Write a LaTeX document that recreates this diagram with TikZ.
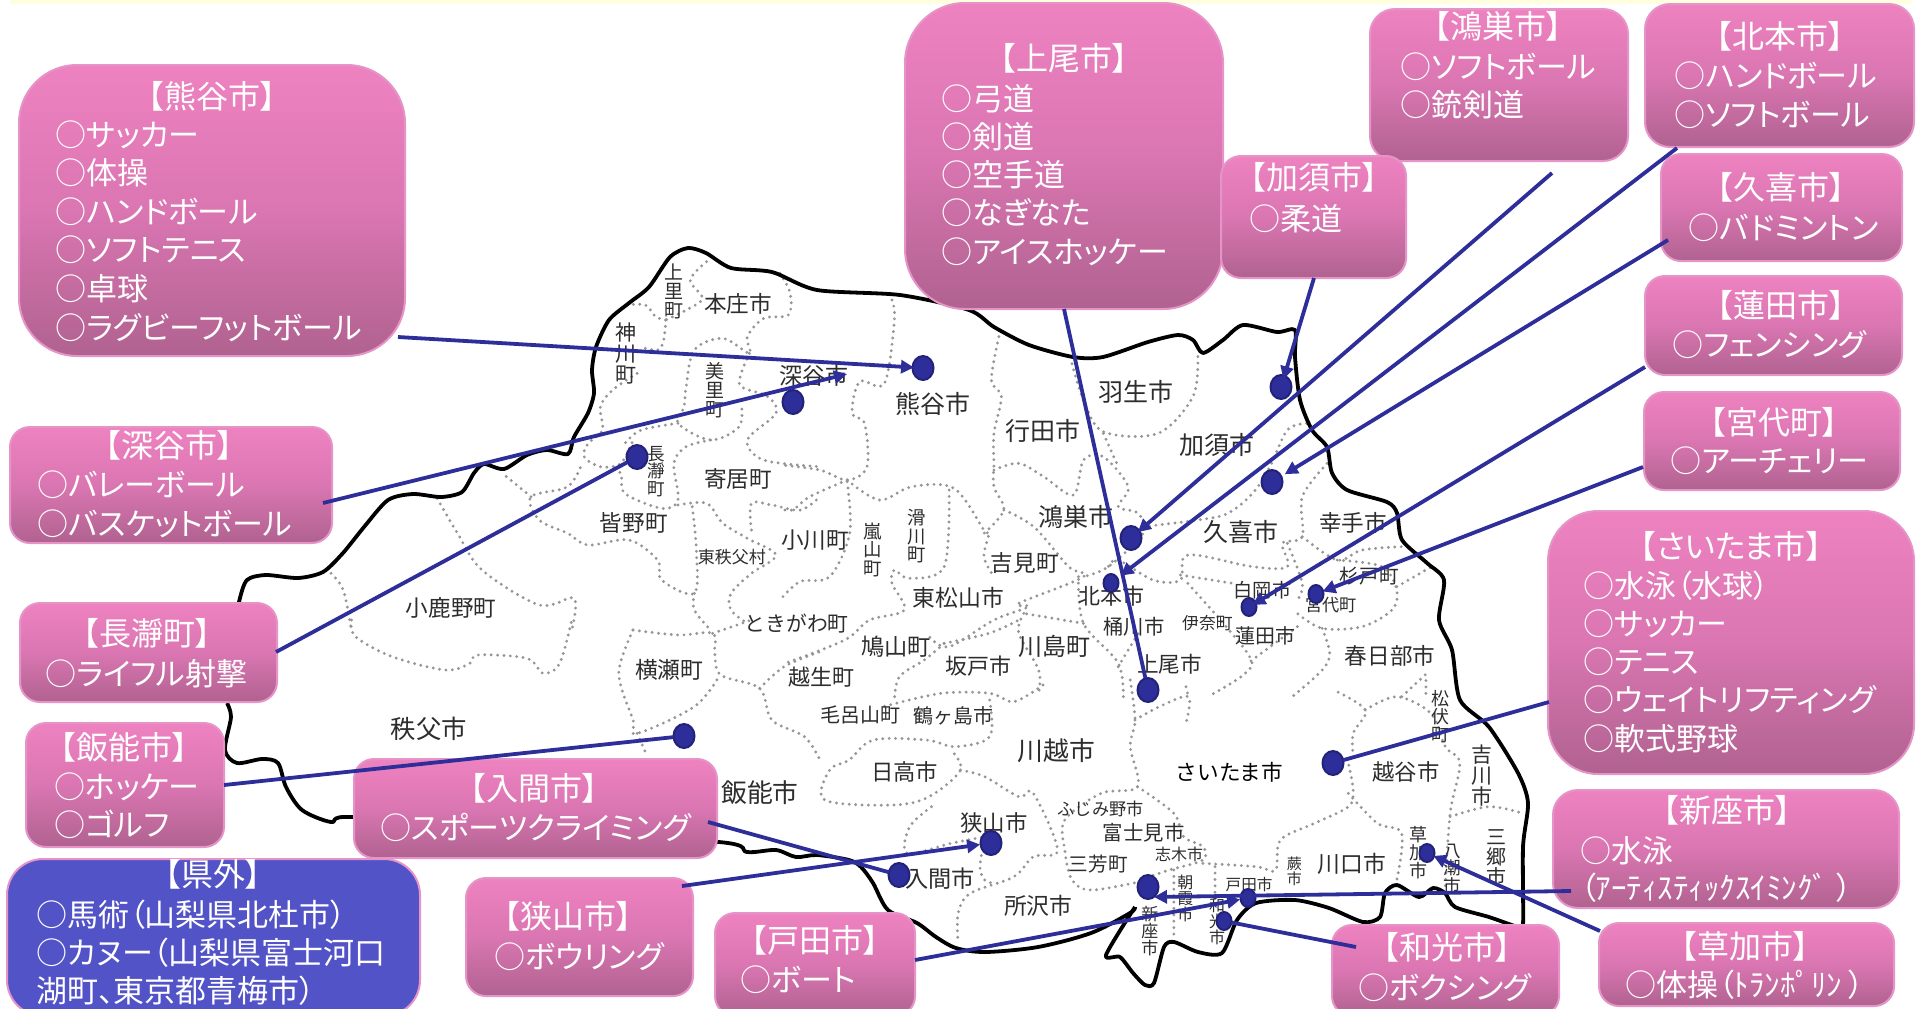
\documentclass[tikz,border=0pt]{standalone}
\usepackage{fontspec}
\setmainfont{Noto Sans CJK JP}
\newfontfamily\jpp[RawFeature={+palt}]{Noto Sans CJK JP}
\usetikzlibrary{shapes.geometric,arrows.meta}
\definecolor{boxt}{RGB}{238,130,192}
\definecolor{boxm}{RGB}{218,118,178}
\definecolor{boxb}{RGB}{176,98,144}
\definecolor{boxe}{RGB}{230,148,200}
\definecolor{bluebox}{RGB}{83,83,200}
\definecolor{connc}{RGB}{46,46,154}
\definecolor{dotrim}{RGB}{34,34,120}
\definecolor{strip}{RGB}{255,255,224}
\definecolor{labc}{RGB}{45,45,45}
\definecolor{dotgray}{RGB}{150,150,150}
\tikzset{
  pinkbox/.style={rounded corners=#1*0.5pt,draw=boxe,line width=1pt,top color=boxt,bottom color=boxb,middle color=boxm,inner sep=0,outer sep=0},
  bluecard/.style={rounded corners=#1*0.5pt,draw=boxe,line width=1pt,fill=bluebox,inner sep=0,outer sep=0},
  ttl/.style={text=white,inner sep=0,yshift=-0.7pt,font=\jpp\fontsize{16}{16}\selectfont,text height=13pt,text depth=3pt},
  itm/.style={text=white,inner sep=0,yshift=-1pt,anchor=west,font=\jpp\fontsize{15.5}{15.5}\selectfont,text height=13pt,text depth=3pt},
  maplab/.style={text=labc,inner sep=0,yshift=-0.4pt,align=center},
  mapline/.style={draw=black,line width=1.9pt,line join=round},
  bound/.style={draw=dotgray,line width=1.6pt,line cap=round,dash pattern=on 0pt off 3.2pt},
  conn/.style={draw=connc,line width=1.9pt},
  connh/.style={conn,-{Triangle[length=6.5pt,width=6.5pt]}},
  bigdot/.style={ellipse,draw=dotrim,line width=1pt,fill=connc,minimum width=10.5pt,minimum height=12pt,inner sep=0,outer sep=0},
  smalldot/.style={ellipse,draw=dotrim,line width=1pt,fill=connc,minimum width=7.5pt,minimum height=9pt,inner sep=0,outer sep=0}
}
\newcount\labn
\newcommand\lab[5][labc]{\global\advance\labn by 1\node[maplab,text=#1,font=\fontsize{#2}{#2}\selectfont] (ml\the\labn) at (#3,#4) {#5};}
\newcommand\dl[1]{\draw[bound] plot[smooth,tension=.55] coordinates {#1};}
\newcommand\boxn[7]{\node[#7=#6,minimum width={(#4-#2)*0.5pt},minimum height={(#5-#3)*0.5pt}] (#1) at ({(#2+#4)/2},{(#3+#5)/2}) {};}
\newcommand\boxt[4]{\node[ttl] (#1-t) at (#2,#3) {#4};}
\newcommand\rows[5]{%
  \foreach \t [count=\i from 0] in {#5} {\node[itm] (#1-\i) at (#2,{#3+\i*#4}) {\t};}}
\begin{document}
\begin{tikzpicture}[x=0.5pt,y=-0.5pt]
\useasboundingbox (0,0) rectangle (1922,1008);
\clip (0,0) rectangle (1922,1008);
\fill[white] (0,0) rectangle (1922,1008);
\fill[strip] (10,0) rectangle (1912,4);
% boundaries, zoom 1
\begin{scope}[shift={(180,230)},x=0.20408pt,y=-0.16667pt]
\dl{(1095,225)(1140,225)(1165,260)(1190,270)}
\dl{(1290,95)(1250,150)(1280,205)(1240,240)(1190,270)}
\dl{(1190,270)(1185,330)(1170,360)(1125,350)}
\dl{(1120,430)(1060,480)(1030,530)(1035,600)(1000,640)(990,680)(1030,710)(1080,700)(1110,630)}
\dl{(1470,130)(1495,190)(1490,255)(1430,265)(1390,320)(1395,370)(1330,325)(1260,360)(1240,470)(1235,530)(1220,580)(1300,630)(1370,590)(1375,520)}
\dl{(1395,370)(1375,430)(1375,470)(1440,500)(1460,550)(1390,630)(1430,690)(1568,710)}
\dl{(1220,580)(1130,600)(1090,640)}
\dl{(1300,630)(1240,650)(1210,700)(1220,810)(1180,835)(1090,790)(1080,730)(1050,710)}
\dl{(1220,825)(1290,820)(1330,880)(1390,925)(1460,975)(1400,1030)(1350,1090)(1350,1140)(1390,1180)}
\dl{(1400,900)(1400,820)(1450,825)(1520,840)(1568,800)}
\dl{(1255,830)(1265,960)(1260,1090)(1180,1050)(1170,990)(1100,930)(1000,945)(950,910)(880,870)(860,800)(950,770)(985,700)}
\dl{(860,800)(790,730)}
\dl{(630,805)(680,910)(740,1020)(880,1125)(965,1105)(960,1200)}
\dl{(370,1030)(400,1080)(420,1200)}
\dl{(1260,1090)(1260,1140)(1300,1200)}
\end{scope}
% zoom 3
\begin{scope}[shift={(180,620)},x=0.20408pt,y=-0.16667pt]
\dl{(420,0)(430,50)(520,110)(650,150)(710,130)(730,105)(850,115)(890,160)(930,130)(960,0)}
\dl{(1110,30)(1220,45)(1305,40)(1310,100)(1325,165)(1420,205)(1450,300)(1530,350)(1568,420)}
\dl{(1110,30)(1075,160)(1110,300)(1120,340)(1260,260)(1320,170)}
\dl{(1120,340)(1145,410)}
\dl{(1420,205)(1480,140)(1568,95)}
\dl{(1305,40)(1400,0)}
\end{scope}
% zoom 2
\begin{scope}[shift={(780,300)},x=0.24872pt,y=-0.16667pt]
\dl{(225,0)(230,60)(210,250)(160,245)(145,340)(170,370)(175,500)(135,540)(80,510)(0,495)}
\dl{(135,540)(60,590)(25,630)(0,625)}
\dl{(135,545)(140,700)(100,830)(40,845)(0,900)}
\dl{(135,540)(200,600)(265,560)(350,565)(410,690)(420,700)(410,770)(430,830)}
\dl{(340,570)(330,800)(260,835)(230,810)(225,850)(250,930)(180,960)(130,1020)(10,1090)}
\dl{(440,110)(425,240)(445,290)(430,400)(430,490)(430,560)(450,630)(410,700)}
\dl{(430,510)(480,490)(530,530)(590,585)(610,480)(650,470)(700,560)(680,620)(720,640)(730,700)(660,800)(610,830)}
\dl{(450,630)(510,680)(580,800)(610,830)(480,910)(500,920)(430,960)(340,1040)(300,1010)}
\dl{(840,170)(830,290)(760,400)(650,395)(610,300)(585,180)}
\dl{(650,400)(680,500)}
\dl{(730,680)(840,660)(900,640)(950,580)(985,500)(1020,390)(1060,370)}
\dl{(1100,490)(1050,590)(1050,710)(1010,730)(1020,800)(950,800)(820,765)(805,840)(750,840)(680,780)(660,800)}
\dl{(1050,710)(1120,780)(1170,750)(1250,740)}
\dl{(1020,730)(1050,850)(1040,900)}
\dl{(805,825)(910,850)}
\dl{(1240,860)(1310,800)}
\dl{(1120,780)(1210,800)(1240,870)(1230,930)(1170,980)(1090,985)(1040,940)}
\dl{(1090,985)(1105,1060)(1090,1110)(1030,1190)}
\dl{(820,850)(940,1060)(935,1120)(860,1190)}
\dl{(1040,980)(940,1090)}
\dl{(600,830)(610,970)(680,1090)(690,1200)}
\dl{(610,970)(490,940)}
\dl{(490,940)(480,1000)(520,1110)(520,1180)}
\dl{(330,1030)(420,1000)(480,960)}
\dl{(330,1030)(290,1080)(240,1130)(230,1200)}
\dl{(680,1100)(720,1000)}
\dl{(1250,1190)(1300,1120)}
\end{scope}
% zoom 4
\begin{scope}[shift={(820,680)},x=0.24235pt,y=-0.16667pt]
\dl{(640,0)(650,120)(640,200)(655,320)(580,340)(505,420)(505,510)(520,600)(560,630)(660,605)}
\dl{(650,120)(700,80)(760,50)(755,130)}
\dl{(755,20)(760,50)}
\dl{(460,15)(400,65)(350,40)(250,40)(130,80)}
\dl{(350,60)(350,170)(280,200)(220,180)(110,180)(60,240)(20,270)(10,360)(150,375)(225,350)(290,270)(270,210)}
\dl{(290,270)(340,290)(410,350)(440,340)(490,510)(440,530)(400,590)(310,640)(285,700)(285,790)}
\dl{(230,380)(185,440)(180,520)(270,490)(340,470)}
\dl{(340,470)(330,560)(340,600)(360,610)}
\dl{(655,320)(730,400)(750,470)(790,500)(790,540)(720,570)(660,600)}
\dl{(790,550)(900,560)(940,570)(950,480)(1020,430)(1090,380)(1100,330)(1090,250)}
\dl{(1090,340)(1150,430)(1200,460)(1190,600)}
\dl{(1100,230)(1100,160)(1125,90)(1060,30)}
\dl{(1125,90)(1190,50)(1260,100)(1290,200)(1320,250)(1300,400)(1290,620)}
\dl{(1300,410)(1380,380)(1450,400)}
\dl{(1250,40)(1250,0)}
\dl{(815,560)(815,680)}
\dl{(730,570)(730,780)}
\end{scope}
% prefecture outline
\draw[mapline] plot[smooth,tension=.5] coordinates {(227,703)(231,717)(225,750)(237,763)(262,759)(278,763)(286,787)(302,810)(331,822)(351,817)(500,830)(719,842)(747,852)(776,850)(796,857)(817,855)(849,860)(861,867)(873,883)(888,910)(917,923)(936,937)(956,948)(985,952)(1038,947)(1091,933)(1130,913)(1135,907)};
\draw[mapline] plot[smooth,tension=.45] coordinates {(1135,907)(1106,955)(1120,957)(1133,973)(1145,985)(1154,983)(1164,947)(1174,942)(1198,952)(1222,953)(1237,920)(1256,903)(1295,900)(1329,908)(1363,922)(1380,917)(1385,893)(1397,885)(1419,897)(1433,888)(1445,893)(1455,907)(1489,917)(1518,927)(1523,925)(1523,847)(1528,803)(1518,773)(1489,727)(1460,700)(1452,650)(1439,620)(1444,580)(1427,563)(1402,540)(1397,513)(1387,502)(1347,490)(1332,473)(1327,447)(1312,430)(1300,400)(1295,357)(1295,330)(1277,332)(1243,325)(1223,340)(1203,353)(1193,340)(1178,335)(1148,342)(1103,357)(1073,357)(1029,345)(994,327)(969,310)(900,295)(817,290)(772,272)(731,268)(706,253)(688,248)(670,257)(649,287)(629,303)(609,320)(596,347)(592,370)(594,393)(588,413)(574,437)(568,454)(547,450)(527,455)(504,469)(484,464)(474,473)(462,492)(441,497)(413,494)(388,500)(364,527)(343,553)(323,572)(298,578)(266,575)(247,580)(239,602)(230,650)(227,703)};
% map labels (thumbnail coordinates)
\begin{scope}[scale=1.2258]
\lab{11.3}{602}{247}{本庄市}
\lab{12.5}{761}{329}{熊谷市}
\lab{11.5}{664}{306}{深谷市}
\lab{11.3}{602}{390}{寄居町}
\lab{11.3}{517}{426}{皆野町}
\lab{11.3}{368}{495}{小鹿野町}
\lab{8.5}{597}{454}{東秩父村}
\lab{11.3}{665}{440}{小川町}
\lab{10.4}{650}{508}{ときがわ町}
\lab{11.4}{782}{487}{東松山市}
\lab{11.3}{836}{459}{吉見町}
\lab{12.5}{851}{351}{行田市}
\lab{12.5}{927}{319}{羽生市}
\lab{12.5}{993}{362}{加須市}
\lab{12.5}{878}{421}{鴻巣市}
\lab{12.5}{1012}{433}{久喜市}
\lab{11.3}{1104}{426}{幸手市}
\lab{9.8}{1117}{469}{杉戸町}
\lab{8.6}{1086}{493}{宮代町}
\lab{9.6}{1030}{481}{白岡市}
\lab{8.4}{985}{508}{伊奈町}
\lab{10}{1032}{518}{蓮田市}
\lab{11}{907}{486}{北本市}
\lab{10.2}{925}{511}{桶川市}
\lab{10.8}{954}{541}{上尾市}
\lab{12}{860}{527}{川島町}
\lab{11}{798}{543}{坂戸市}
\lab{11.6}{731}{527}{鳩山町}
\lab{11}{670}{552}{越生町}
\lab{11.4}{546}{546}{横瀬町}
\lab{10}{702}{583}{毛呂山町}
\lab{10}{778}{583}{鶴ヶ島市}
\lab{12.9}{862}{612}{川越市}
\lab{11.2}{738}{629}{日高市}
\lab{12.7}{350}{594}{秩父市}
\lab{12.9}{620}{646}{飯能市}
\lab{11.2}{811}{671}{狭山市}
\lab{11.6}{767}{716}{入間市}
\lab{11.4}{847}{738}{所沢市}
\lab{9.8}{896}{704}{三芳町}
\lab{10.2}{933}{679}{富士見市}
\lab{8.6}{898}{659}{ふじみ野市}
\lab{8}{962}{696}{志木市}
\lab{7.8}{1019}{721}{戸田市}
\lab{11.4}{1103}{704}{川口市}
\lab[black]{10.8}{1003}{629}{さいたま市}
\lab{11.2}{1147}{629}{越谷市}
\lab{11.3}{1134}{534}{春日部市}
\lab{9.5}{550}{237}{上\\里\\町}
\lab{10.5}{511}{288}{神\\川\\町}
\lab{9.5}{583}{318}{美\\里\\町}
\lab{8.8}{535}{384}{長\\瀞\\町}
\lab{9.2}{712}{448}{嵐\\山\\町}
\lab{9.2}{748}{437}{滑\\川\\町}
\lab{9}{1175}{584}{松\\伏\\町}
\lab{10.5}{1209}{632}{吉\\川\\市}
\lab{10}{1221}{699}{三\\郷\\市}
\lab{9}{1157}{695}{草\\加\\市}
\lab{8.8}{1185}{708}{八\\潮\\市}
\lab{7.5}{1056}{710}{蕨\\市}
\lab{8}{967}{732}{朝\\霞\\市}
\lab{8}{993}{751}{和\\光\\市}
\lab{8.5}{938}{759}{新\\座\\市}
\end{scope}
% boxes
\boxn{kuma}{19}{65}{405}{356}{58}{pinkbox}
\boxn{ageo}{905}{3}{1223}{309}{60}{pinkbox}
\boxn{kono}{1370}{9}{1628}{161}{25}{pinkbox}
\boxn{kita}{1645}{4}{1914}{147}{25}{pinkbox}
\boxn{kazo}{1221}{156}{1406}{278}{20}{pinkbox}
\boxn{kuki}{1661}{154}{1902}{261}{20}{pinkbox}
\boxn{hasu}{1645}{276}{1902}{375}{20}{pinkbox}
\boxn{miya}{1644}{392}{1900}{490}{20}{pinkbox}
\boxn{sait}{1548}{511}{1914}{774}{50}{pinkbox}
\boxn{niiz}{1553}{790}{1899}{908}{25}{pinkbox}
\boxn{soka}{1599}{923}{1894}{1006}{20}{pinkbox}
\boxn{wako}{1332}{925}{1559}{1016}{20}{pinkbox}
\boxn{toda}{715}{913}{915}{1016}{20}{pinkbox}
\boxn{saya}{466}{878}{693}{996}{20}{pinkbox}
\boxn{iruma}{354}{759}{717}{858}{20}{pinkbox}
\boxn{hanno}{26}{723}{224}{847}{20}{pinkbox}
\boxn{naga}{20}{603}{277}{702}{20}{pinkbox}
\boxn{fuka}{10}{427}{332}{543}{20}{pinkbox}
\boxn{kengai}{7}{859}{420}{1016}{36}{bluecard}
% box texts
\boxt{kuma}{212}{97}{【熊谷市】}
\rows{kuma}{55}{134}{38.6}{○サッカー,○体操,○ハンドボール,○ソフトテニス,○卓球,○ラグビーフットボール}
\boxt{ageo}{1064}{59}{【上尾市】}
\rows{ageo}{941}{98}{38.3}{○弓道,○剣道,○空手道,○なぎなた,○アイスホッケー}
\boxt{kono}{1498}{27}{【鴻巣市】}
\rows{kono}{1400}{66}{38.5}{○ソフトボール,○銃剣道}
\boxt{kita}{1780}{37}{【北本市】}
\rows{kita}{1674}{75}{39}{○ハンドボール,○ソフトボール}
\boxt{kazo}{1314}{178}{【加須市】}
\rows{kazo}{1249}{218}{38}{○柔道}
\boxt{kuki}{1781}{188}{【久喜市】}
\rows{kuki}{1688}{227}{38}{○バドミントン}
\boxt{hasu}{1781}{306}{【蓮田市】}
\rows{hasu}{1672}{344}{38}{○フェンシング}
\boxt{miya}{1774}{423}{【宮代町】}
\rows{miya}{1670}{460}{38}{○アーチェリー}
\boxt{sait}{1731}{547}{【さいたま市】}
\rows{sait}{1583}{585}{38.3}{○水泳（水球）,○サッカー,○テニス,○ウェイトリフティング,○軟式野球}
\boxt{niiz}{1727}{811}{【新座市】}
\rows{niiz}{1580}{850}{37}{○水泳,（ｱｰﾃｨｽﾃｨｯｸｽｲﾐﾝｸﾞ\hspace{4pt}）}
\boxt{soka}{1745}{947}{【草加市】}
\rows{soka}{1625}{984}{38}{○体操（ﾄﾗﾝﾎﾟﾘﾝ\hspace{3pt}）}
\boxt{wako}{1447}{948}{【和光市】}
\rows{wako}{1358}{987}{38}{○ボクシング}
\boxt{toda}{815}{941}{【戸田市】}
\rows{toda}{740}{979}{38}{○ボート}
\boxt{saya}{568}{917}{【狭山市】}
\rows{saya}{494}{956}{38}{○ボウリング}
\boxt{iruma}{534}{789}{【入間市】}
\rows{iruma}{380}{827}{38}{○スポーツクライミング}
\boxt{hanno}{124}{748}{【飯能市】}
\rows{hanno}{54}{786}{38}{○ホッケー,○ゴルフ}
\boxt{naga}{147}{634}{【長瀞町】}
\rows{naga}{45}{673}{38}{○ライフル射撃}
\boxt{fuka}{169}{446}{【深谷市】}
\rows{fuka}{37}{484}{39}{○バレーボール,○バスケットボール}
\boxt{kengai}{213}{875}{【県外】}
\rows{kengai}{36}{914}{38}{○馬術（山梨県北杜市）,○カヌー（山梨県富士河口,湖町、東京都青梅市）}
% connector free ends
\coordinate (s-kuma) at (398,337);
\coordinate (s-fuka) at (323,503);
\coordinate (s-naga) at (276,652);
\coordinate (s-hanno) at (224,785);
\coordinate (s-iruma) at (708,822);
\coordinate (s-saya) at (682,886);
\coordinate (s-toda) at (915,960);
\coordinate (s-niiz) at (1571,891);
\coordinate (s-wako) at (1356,947);
\coordinate (s-soka) at (1600,931);
\coordinate (s-sait) at (1549,702);
\coordinate (s-miya) at (1643,467);
\coordinate (s-hasu) at (1645,367);
\coordinate (s-kuki) at (1668,240);
\coordinate (s-kita) at (1677,148);
\coordinate (s-kono) at (1552,173);
\coordinate (s-kazo) at (1314,278);
\coordinate (s-ageo) at (1064,309);
\coordinate (e-fuka) at (847,374);
\coordinate (e-niiz) at (1154,897);
% dots
\node[bigdot] (d-kuma) at (923,368) {};
\node[bigdot] (d-fuka) at (793,402) {};
\node[bigdot] (d-naga) at (637,457) {};
\node[bigdot] (d-hanno) at (684,736) {};
\node[bigdot] (d-kuki) at (1272,482) {};
\node[bigdot] (d-kazo) at (1281,387) {};
\node[bigdot] (d-kono) at (1131,538) {};
\node[smalldot] (d-kita) at (1111,583) {};
\node[smalldot] (d-hasu) at (1249,607) {};
\node[smalldot] (d-miya) at (1316,594) {};
\node[bigdot] (d-ageo) at (1148,690) {};
\node[bigdot] (d-sait) at (1333,763) {};
\node[bigdot] (d-saya) at (991,843) {};
\node[bigdot] (d-iruma) at (899,875) {};
\node[bigdot] (d-niiz) at (1148,887) {};
\node[smalldot] (d-toda) at (1248,898) {};
\node[smalldot] (d-wako) at (1224,921) {};
\node[smalldot] (d-soka) at (1427,853) {};
% connectors
\draw[conn] (s-naga) -- (d-naga);
\draw[conn] (s-hanno) -- (d-hanno);
\draw[conn] (s-iruma) -- (d-iruma);
\draw[conn] (s-wako) -- (d-wako);
\draw[conn] (s-sait) -- (d-sait);
\draw[conn] (s-ageo) -- (d-ageo);
\draw[connh,shorten >=4.5pt] (s-kuma) -- (d-kuma.center);
\draw[connh] (s-fuka) -- (e-fuka);
\draw[connh,shorten >=5.5pt] (s-saya) -- (d-saya.center);
\draw[connh,shorten >=4pt] (s-toda) -- (d-toda.center);
\draw[connh] (s-niiz) -- (e-niiz);
\draw[connh,shorten >=3.5pt] (s-soka) -- (d-soka.center);
\draw[connh,shorten >=3.5pt] (s-miya) -- (d-miya.center);
\draw[connh,shorten >=2pt] (s-hasu) -- (d-hasu.center);
\draw[connh,shorten >=7.5pt] (s-kuki) -- (d-kuki.center);
\draw[connh,shorten >=6pt] (s-kita) -- (d-kita.center);
\draw[connh,shorten >=4.5pt] (s-kono) -- (d-kono.center);
\draw[connh,shorten >=4pt] (s-kazo) -- (d-kazo.center);
\end{tikzpicture}
\end{document}
